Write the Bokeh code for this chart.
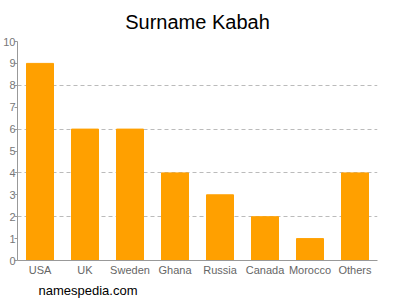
from bokeh.plotting import figure
from bokeh.models import Range1d, FixedTicker, Title
from bokeh.embed import file_html
from bokeh.resources import INLINE

countries = ["USA", "UK", "Sweden", "Ghana", "Russia", "Canada", "Morocco", "Others"]
counts = [9, 6, 6, 4, 3, 2, 1, 4]
y_ticks = list(range(0, 11))
grid_ticks = [2, 4, 6, 8, 10]

xs = [i + 0.5 for i in range(len(countries))]

p = figure(width=400, height=300, output_backend="svg", toolbar_location=None,
           x_range=Range1d(0, len(countries)), y_range=Range1d(0, 10),
           min_border_left=17, min_border_right=23, min_border_top=0, min_border_bottom=0)
p.outline_line_color = None
p.background_fill_color = "white"

p.vbar(x=xs, top=counts, width=0.6, color="#ffa000")

p.xaxis.ticker = FixedTicker(ticks=xs)
p.xaxis.major_label_overrides = {x: c for x, c in zip(xs, countries)}
p.xaxis.major_tick_line_color = None
p.xaxis.major_tick_in = 0
p.xaxis.major_tick_out = 0
p.xaxis.minor_tick_line_color = None
p.xaxis.axis_line_color = "#999999"
p.xaxis.major_label_text_font = "Liberation Sans"
p.xaxis.major_label_text_font_size = "11px"
p.xaxis.major_label_text_color = "#666666"
p.xaxis.major_label_standoff = 3

p.yaxis.ticker = FixedTicker(ticks=y_ticks)
p.yaxis.axis_line_color = "#999999"
p.yaxis.major_tick_line_color = "#999999"
p.yaxis.major_tick_in = 0
p.yaxis.major_tick_out = 3
p.yaxis.minor_tick_line_color = None
p.yaxis.major_label_text_font = "Liberation Sans"
p.yaxis.major_label_text_font_size = "11px"
p.yaxis.major_label_text_color = "#777777"
p.yaxis.major_label_standoff = -1

p.xgrid.grid_line_color = None
p.ygrid.ticker = FixedTicker(ticks=grid_ticks)
p.ygrid.grid_line_color = "#bbbbbb"
p.ygrid.grid_line_dash = "4 3"

p.title = Title(text="Surname Kabah", align="center", text_font="Liberation Sans",
                text_font_size="20px", text_font_style="normal", text_color="#000000",
                standoff=17, offset=-17)

footer = Title(text="namespedia.com", align="left", text_font="Liberation Sans",
               text_font_size="13px", text_font_style="normal", text_color="#000000",
               offset=21, standoff=5)
p.add_layout(footer, "below")

open("out.html", "w").write(file_html(p, INLINE))
